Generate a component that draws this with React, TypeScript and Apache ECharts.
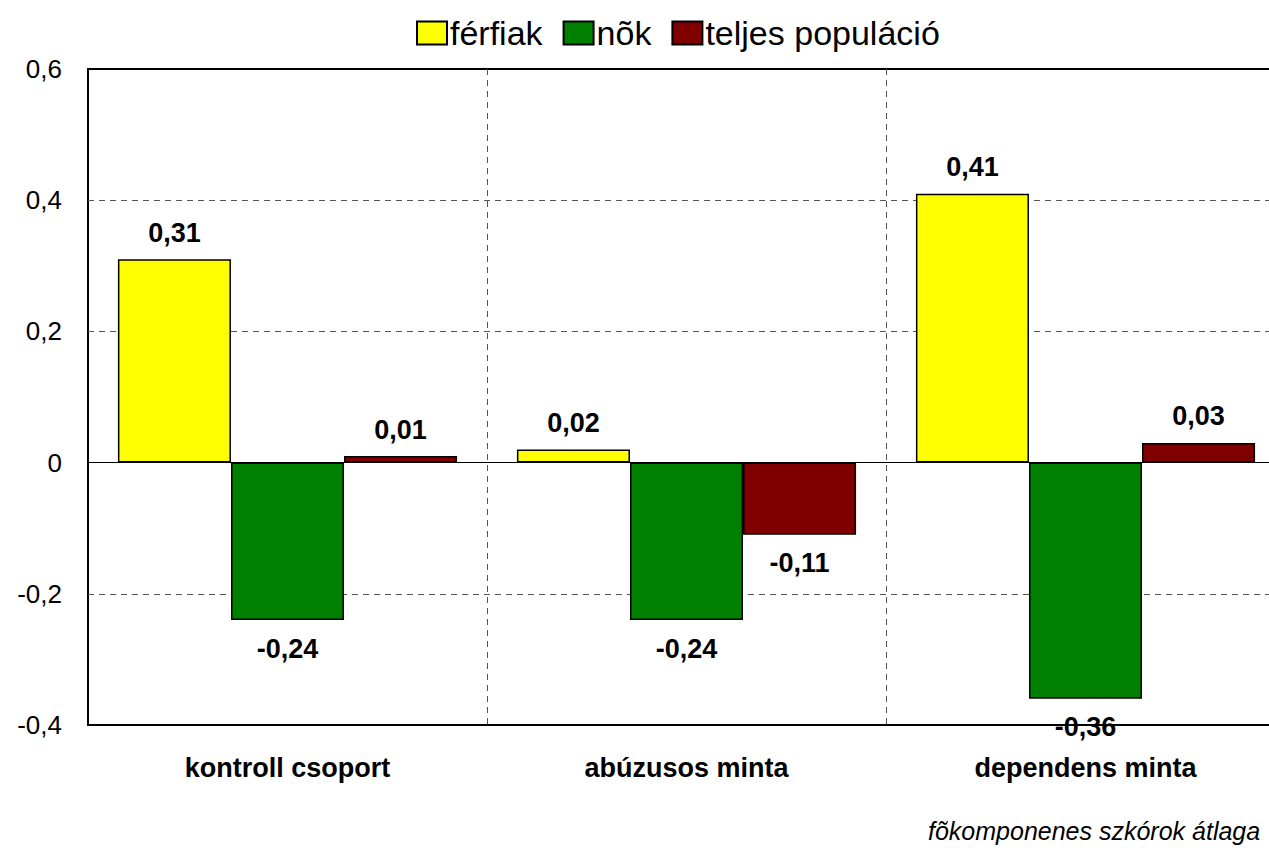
import React, { useEffect, useRef } from "react";
import * as echarts from "echarts";

const categories = ["kontroll csoport", "abúzusos minta", "dependens minta"];
const seriesNames = ["férfiak", "nõk", "teljes populáció"];
const ferfiak = [0.31, 0.02, 0.41];
const nok = [-0.24, -0.24, -0.36];
const teljes = [0.01, -0.11, 0.03];
const colors = ["#FFFF00", "#008000", "#800000"];
const footnote = "fõkomponenes szkórok átlaga";

const FONT = "'Liberation Sans Narrow', 'Arial Narrow', 'Liberation Sans', Arial, sans-serif";

const fmt = (v: number) => v.toFixed(2).replace(".", ",");

function makeData(values: number[]) {
  return values.map((v) => ({
    value: v,
    label: {
      show: true,
      position: v >= 0 ? "top" : "bottom",
      distance: v >= 0 ? 13 : 15,
      formatter: () => fmt(v),
      fontFamily: FONT,
      fontWeight: "bold",
      fontSize: 27,
      color: "#000",
    },
  }));
}

export default function App() {
  const ref = useRef<HTMLDivElement>(null);
  useEffect(() => {
    if (!ref.current) return;
    const chart = echarts.init(ref.current, null, { renderer: "svg" });
    const all = [ferfiak, nok, teljes];
    chart.setOption({
      animation: false,
      backgroundColor: "#fff",
      legend: {
        top: 11,
        left: 411,
        icon: "rect",
        itemWidth: 30,
        itemHeight: 23,
        itemGap: 20,
        textStyle: { fontFamily: FONT, fontSize: 34, color: "#000", padding: [0, 0, 0, -2] },
        data: seriesNames,
      },
      grid: {
        left: 88,
        top: 69,
        right: 15,
        bottom: 123,
        show: true,
        borderColor: "#000",
        borderWidth: 2,
        backgroundColor: "#fff",
      },
      xAxis: {
        type: "category",
        data: categories,
        axisLine: { show: false },
        axisTick: { show: false },
        axisLabel: {
          fontFamily: FONT,
          fontWeight: "bold",
          fontSize: 27,
          color: "#000",
          margin: 29,
        },
        splitLine: {
          show: true,
          showMinLine: false,
          lineStyle: { color: "#555", type: [6, 5], width: 1 },
        },
      },
      yAxis: {
        type: "value",
        min: -0.4,
        max: 0.6,
        interval: 0.2,
        axisLine: { show: false },
        axisTick: { show: false },
        axisLabel: {
          fontFamily: FONT,
          fontSize: 26,
          color: "#000",
          margin: 26,
          formatter: (v: number) => String(Math.round(v * 10) / 10).replace(".", ","),
        },
        splitLine: {
          show: true,
          showMinLine: false,
          showMaxLine: false,
          lineStyle: { color: "#555", type: [6, 5], width: 1 },
        },
      },
      series: all.map((vals, i) => ({
        name: seriesNames[i],
        type: "bar",
        data: makeData(vals),
        barGap: "0%",
        barCategoryGap: "15%",
        itemStyle: { color: colors[i], borderColor: "#000", borderWidth: 1.5 },
        z: 3,
        ...(i === 0
          ? {
              markLine: {
                silent: true,
                symbol: "none",
                label: { show: false },
                lineStyle: { color: "#000", type: "solid", width: 1 },
                data: [{ yAxis: 0 }],
                z: 1,
              },
            }
          : {}),
      })),
      graphic: [
        {
          type: "text",
          left: 928,
          top: 818,
          style: {
            text: footnote,
            fontFamily: FONT,
            fontStyle: "italic",
            fontSize: 25,
            fill: "#000",
          },
        },
      ],
    });
    return () => chart.dispose();
  }, []);
  return (
    <div style={{ position: "fixed", left: 0, top: 0, width: 1269, height: 848, overflow: "hidden" }}>
      <div ref={ref} style={{ width: 1300, height: 848 }} />
    </div>
  );
}
